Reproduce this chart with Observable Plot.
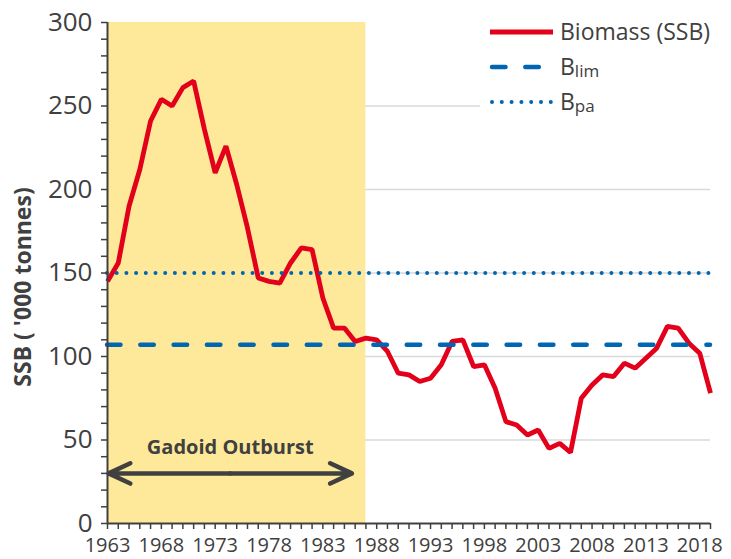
<!DOCTYPE html>
<html><head><meta charset="utf-8">
<script src="https://cdn.jsdelivr.net/npm/d3@7"></script>
<script src="https://cdn.jsdelivr.net/npm/@observablehq/plot@0.6"></script>
<style>
body{margin:0;background:#fff;}
#wrap{position:relative;width:731px;height:559px;font-family:"Open Sans",sans-serif;}
#overlay{position:absolute;left:0;top:0;pointer-events:none;}
</style></head><body><div id="wrap"></div>
<script>
// ---- data ----
const years = d3.range(1963, 2020);
const ssb = [145,156,190,212,241,254,250,261,265,236,
             210,226,203,177,147,145,144,156,165,164,
             135,117,117,109,111,110,103,90,89,85,
             87,95,109,110,94,95,81,61,59,53,
             56,45,48,42.5,75,83,89,88,96,93,
             99,105,118,117,108,102,78];
const blim = 107;
const bpa = 150;
const outburstStart = 1963;
const outburstEnd = 1987;
const arrowFrom = 1963.1;
const arrowTo = 1985.7;
const arrowLevel = 30;
const outburstLabel = "Gadoid Outburst";
const outburstLabelX = 1974.4;
const outburstLabelY = 45.5;
const yMajorTicks = [0,50,100,150,200,250,300];
const yMinorTicks = d3.range(0, 301, 10);
const gridValues = [50,100,150,200,250];
const xLabelYears = [1963,1968,1973,1978,1983,1988,1993,1998,2003,2008,2013,2018];
const seriesNames = ["Biomass (SSB)", "B", "B"];
const seriesSubs = ["", "lim", "pa"];
const yTitle = "SSB ( '000 tonnes)";
const xDomain = [1963, 2019];
const yDomain = [0, 300];

const RED = "#e2001a", BLUE = "#0066b3", INK = "#404040", SHADE = "#fee99a";

const data = years.map((year, i) => ({year, ssb: ssb[i]}));
const mid = (arrowFrom + arrowTo) / 2;
const arrowSegs = [{a: mid, b: arrowFrom}, {a: mid, b: arrowTo}];

const chart = Plot.plot({
  width: 731, height: 559,
  marginLeft: 107, marginRight: 21, marginTop: 22, marginBottom: 36,
  x: {domain: xDomain},
  y: {domain: yDomain},
  style: {fontFamily: "Open Sans", color: INK, background: "white", overflow: "visible"},
  marks: [
    Plot.ruleY(gridValues, {stroke: "#d9d9d9", strokeWidth: 1.5}),
    Plot.rect([{s: outburstStart, e: outburstEnd}], {x1: "s", x2: "e", y1: yDomain[0], y2: yDomain[1], fill: SHADE}),
    Plot.line(data, {x: "year", y: "ssb", stroke: RED, strokeWidth: 4.8, strokeLinejoin: "miter", strokeLinecap: "butt"}),
    Plot.ruleY([blim], {x1: xDomain[0], x2: xDomain[1], stroke: BLUE, strokeWidth: 4.5, strokeDasharray: "13.5,19.8", strokeLinecap: "round"}),
    Plot.ruleY([bpa], {x1: xDomain[0], x2: xDomain[1], stroke: BLUE, strokeWidth: 4, strokeDasharray: "0,9.7", strokeLinecap: "round"}),
    Plot.text([outburstLabel], {x: outburstLabelX, y: outburstLabelY, text: d => d, fontWeight: "bold", fontSize: 20, fill: INK}),
    Plot.arrow(arrowSegs, {x1: "a", x2: "b", y1: arrowLevel, y2: arrowLevel, stroke: INK, strokeWidth: 4.5, headAngle: 50, headLength: 8}),
    Plot.axisY({ticks: yMinorTicks, tickSize: 6, tickFormat: () => "", label: null, stroke: INK, strokeWidth: 1.5}),
    Plot.axisY({ticks: yMajorTicks, tickSize: 0, tickPadding: 15, fontSize: 26, label: null, fill: INK}),
    Plot.axisX({ticks: years, tickSize: 6, tickFormat: () => "", label: null, stroke: INK, strokeWidth: 1.5}),
    Plot.axisX({ticks: xLabelYears, tickSize: 0, tickPadding: 14, fontSize: 20, tickFormat: d => String(d), label: null, fill: INK}),
    Plot.ruleX([xDomain[0]], {stroke: INK, strokeWidth: 2}),
    Plot.ruleY([yDomain[0]], {stroke: INK, strokeWidth: 2})
  ]
});
const wrap = document.getElementById("wrap");
wrap.appendChild(chart);

// ---- overlay: y title and legend ----
const svg = d3.select(wrap).append("svg").attr("id", "overlay").attr("width", 731).attr("height", 559)
  .style("font-family", "Open Sans");
svg.append("text").attr("transform", "translate(22,287) rotate(-90)")
  .attr("text-anchor", "middle").attr("dominant-baseline", "central")
  .attr("font-weight", "bold").attr("font-size", 23).attr("fill", INK).text(yTitle);

const lg = svg.append("g");
lg.append("rect").attr("x", 480).attr("y", 12).attr("width", 245).attr("height", 106).attr("fill", "white");
const rowY = [32, 67, 102];
const styles = [
  {stroke: RED, w: 4.8, dash: null, cap: "butt"},
  {stroke: BLUE, w: 4.5, dash: "13.5,19.8", cap: "round"},
  {stroke: BLUE, w: 4, dash: "0,9.8", cap: "round"}
];
seriesNames.forEach((name, i) => {
  const s = styles[i];
  const ln = lg.append("line").attr("x1", i === 0 ? 490 : 492).attr("x2", 553).attr("y1", rowY[i]).attr("y2", rowY[i])
    .attr("stroke", s.stroke).attr("stroke-width", s.w).attr("stroke-linecap", s.cap);
  if (s.dash) ln.attr("stroke-dasharray", s.dash);
  const t = lg.append("text").attr("x", 560).attr("y", rowY[i] + 8).attr("font-size", 23).attr("fill", INK);
  t.append("tspan").text(name);
  if (seriesSubs[i]) t.append("tspan").attr("font-size", 17).attr("dy", 2).text(seriesSubs[i]);
});
</script>
</body></html>
